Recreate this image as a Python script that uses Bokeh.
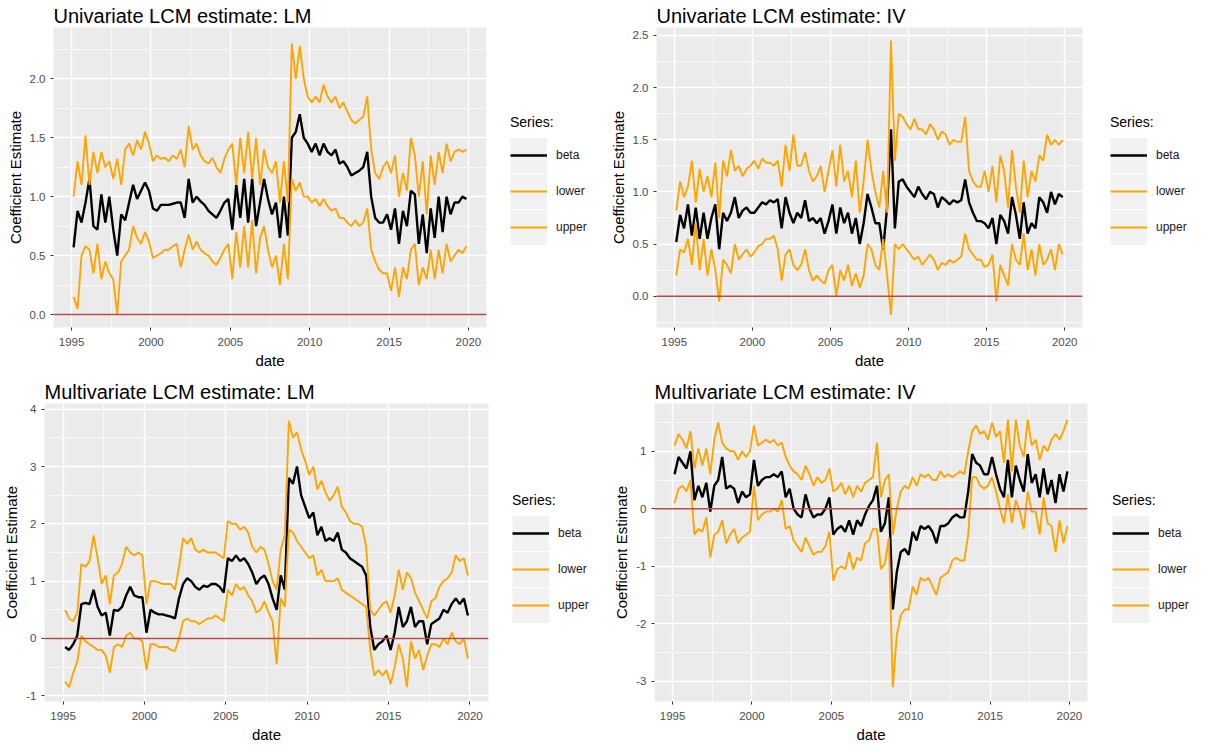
import numpy as np
from bokeh.plotting import figure
from bokeh.models import (Range1d, FixedTicker, PrintfTickFormatter, Span,
                          Legend, LegendItem)
from bokeh.layouts import row, column
from bokeh.embed import file_html
from bokeh.resources import INLINE

FONT = "Liberation Sans"
ORANGE = "#FFA500"

# quarterly sampling dates (decimal years), 1995Q1 .. 2019Q4
dates = [1995.125 + 0.25 * i for i in range(100)]

series_names = ["beta", "lower", "upper"]
x_ticks = [1995, 2000, 2005, 2010, 2015, 2020]

uni_lm_beta = [
    0.57, 0.88, 0.78, 0.95,  1.15, 0.75, 0.72, 1.02,  0.78, 1.00, 0.72, 0.50,
    0.85, 0.80, 0.95, 1.10,  0.98, 1.05, 1.12, 1.05,  0.90, 0.88, 0.93, 0.93,
    0.93, 0.94, 0.95, 0.95,  0.82, 1.15, 0.95, 1.00,  0.96, 0.93, 0.88, 0.85,
    0.82, 0.88, 0.95, 0.98,  0.72, 1.10, 0.82, 1.15,  0.78, 1.15, 0.75, 0.95,
    1.15, 0.98, 0.85, 0.95,  0.65, 1.00, 0.67, 1.50,  1.55, 1.70, 1.50, 1.45,
    1.38, 1.45, 1.35, 1.45,  1.38, 1.35, 1.40, 1.28,  1.30, 1.25, 1.18, 1.20,
    1.22, 1.25, 1.38, 1.00,  0.82, 0.78, 0.78, 0.85,  0.72, 0.90, 0.60, 0.88,
    0.75, 1.05, 1.02, 0.60,  0.85, 0.52, 0.90, 0.65,  1.00, 0.70, 1.00, 0.85,
    0.95, 0.95, 1.00, 0.98]
uni_lm_upper = [
    1.00, 1.30, 1.10, 1.52,  1.10, 1.38, 1.20, 1.38,  1.25, 1.30, 1.15, 1.32,
    1.10, 1.40, 1.45, 1.35,  1.48, 1.40, 1.55, 1.45,  1.30, 1.35, 1.32, 1.33,
    1.30, 1.35, 1.32, 1.40,  1.25, 1.60, 1.40, 1.45,  1.35, 1.30, 1.28, 1.33,
    1.25, 1.20, 1.32, 1.40,  1.45, 1.10, 1.50, 1.20,  1.55, 1.15, 1.50, 1.10,
    1.40, 1.25, 1.20, 1.30,  0.95, 1.30, 0.95, 2.30,  2.00, 2.28, 2.00, 1.85,
    1.80, 1.85, 1.80, 1.95,  1.85, 1.80, 1.85, 1.75,  1.80, 1.72, 1.65, 1.62,
    1.65, 1.68, 1.85, 1.40,  1.20, 1.15, 1.25, 1.30,  1.20, 1.35, 1.00, 1.20,
    1.05, 1.50, 1.35, 1.00,  1.30, 0.85, 1.35, 1.10,  1.38, 1.20, 1.45, 1.30,
    1.38, 1.40, 1.38, 1.40]
uni_lm_lower = [
    0.15, 0.05, 0.50, 0.58,  0.55, 0.35, 0.60, 0.30,  0.45, 0.35, 0.30, 0.00,
    0.45, 0.50, 0.55, 0.75,  0.65, 0.60, 0.70, 0.62,  0.48, 0.50, 0.52, 0.55,
    0.55, 0.58, 0.60, 0.40,  0.55, 0.68, 0.55, 0.62,  0.55, 0.52, 0.50, 0.45,
    0.42, 0.48, 0.55, 0.60,  0.30, 0.70, 0.40, 0.75,  0.40, 0.80, 0.35, 0.65,
    0.75, 0.55, 0.40, 0.50,  0.25, 0.60, 0.30, 1.15,  1.05, 1.12, 1.00, 1.00,
    0.95, 0.98, 0.92, 0.98,  0.92, 0.88, 0.90, 0.82,  0.82, 0.78, 0.75, 0.80,
    0.75, 0.78, 0.90, 0.55,  0.45, 0.38, 0.35, 0.35,  0.20, 0.40, 0.15, 0.40,
    0.30, 0.55, 0.60, 0.25,  0.40, 0.30, 0.55, 0.30,  0.55, 0.35, 0.60, 0.45,
    0.50, 0.55, 0.52, 0.58]

uni_iv_beta = [
    0.52, 0.78, 0.65, 0.88,  0.58, 0.85, 0.55, 0.80,  0.55, 0.75, 0.88, 0.45,
    0.80, 0.72, 0.80, 0.95,  0.75, 0.82, 0.85, 0.80,  0.80, 0.85, 0.90, 0.88,
    0.92, 0.90, 0.93, 0.65,  0.95, 0.80, 0.70, 0.80,  0.75, 0.92, 0.72, 0.75,
    0.70, 0.75, 0.60, 0.72,  0.88, 0.60, 0.85, 0.70,  0.80, 0.60, 0.75, 0.50,
    0.70, 0.98, 0.85, 0.70,  0.70, 0.45, 0.85, 1.60,  0.65, 1.10, 1.12, 1.05,
    1.00, 0.95, 1.05, 0.98,  0.93, 1.00, 0.98, 0.85,  0.95, 0.92, 0.88, 0.92,
    0.90, 0.92, 1.12, 0.90,  0.80, 0.72, 0.72, 0.70,  0.65, 0.75, 0.50, 0.78,
    0.72, 0.60, 0.95, 0.78,  0.55, 0.90, 0.60, 0.70,  0.65, 0.95, 0.90, 0.80,
    1.00, 0.88, 0.98, 0.95]
uni_iv_upper = [
    0.82, 1.10, 0.95, 1.05,  1.30, 0.90, 1.22, 1.00,  1.15, 0.95, 1.28, 0.75,
    1.30, 1.15, 1.40, 1.20,  1.25, 1.15, 1.22, 1.25,  1.30, 1.22, 1.32, 1.28,
    1.28, 1.25, 1.30, 1.05,  1.45, 1.20, 1.55, 1.25,  1.25, 1.38, 1.20, 1.10,
    1.15, 1.25, 1.00, 1.20,  1.40, 1.05, 1.45, 1.10,  1.20, 0.95, 1.30, 0.80,
    1.10, 1.50, 1.20, 1.00,  0.85, 1.20, 0.80, 2.45,  1.30, 1.75, 1.72, 1.65,
    1.60, 1.70, 1.60, 1.60,  1.55, 1.65, 1.60, 1.50,  1.58, 1.55, 1.45, 1.50,
    1.48, 1.48, 1.72, 1.20,  1.10, 1.05, 1.05, 1.20,  1.00, 1.25, 0.90, 1.35,
    1.20, 0.85, 1.40, 1.05,  0.80, 1.30, 0.95, 1.20,  1.10, 1.35, 1.30, 1.55,
    1.45, 1.50, 1.45, 1.50]
uni_iv_lower = [
    0.20, 0.45, 0.42, 0.55,  0.30, 0.70, 0.25, 0.55,  0.20, 0.45, 0.25, -0.05,
    0.35, 0.30, 0.22, 0.50,  0.35, 0.40, 0.45, 0.38,  0.42, 0.48, 0.50, 0.55,
    0.55, 0.58, 0.45, 0.15,  0.40, 0.45, 0.30, 0.25,  0.30, 0.45, 0.25, 0.15,
    0.20, 0.15, 0.12, 0.25,  0.30, 0.00, 0.25, 0.15,  0.30, 0.10, 0.22, 0.08,
    0.20, 0.50, 0.45, 0.30,  0.25, 0.55, 0.20, -0.18,  0.50, 0.45, 0.50, 0.45,
    0.40, 0.35, 0.38, 0.30,  0.35, 0.40, 0.35, 0.25,  0.32, 0.30, 0.35, 0.32,
    0.35, 0.38, 0.60, 0.45,  0.40, 0.35, 0.35, 0.28,  0.30, 0.40, -0.05, 0.30,
    0.20, 0.10, 0.50, 0.35,  0.30, 0.60, 0.25, 0.45,  0.20, 0.50, 0.30, 0.35,
    0.45, 0.25, 0.50, 0.40]

multi_lm_beta = [
    -0.15, -0.20, -0.10, 0.05,  0.60, 0.62, 0.60, 0.85,  0.55, 0.40, 0.45, 0.05,
    0.50, 0.48, 0.55, 0.75,  0.90, 0.75, 0.72, 0.72,  0.10, 0.50, 0.45, 0.42,
    0.42, 0.40, 0.38, 0.35,  0.70, 0.95, 1.05, 1.00,  0.90, 0.85, 0.92, 0.90,
    0.95, 0.95, 0.90, 0.80,  1.40, 1.35, 1.45, 1.35,  1.40, 1.30, 1.15, 0.95,
    1.05, 1.10, 0.95, 0.70,  0.50, 1.10, 0.85, 2.80,  2.70, 3.00, 2.50, 2.30,
    2.10, 2.20, 1.80, 1.95,  1.70, 1.75, 1.70, 1.85,  1.55, 1.50, 1.40, 1.35,
    1.30, 1.25, 1.10, 0.20,  -0.20, -0.10, -0.05, 0.05,  -0.20, 0.10, 0.55, 0.20,
    0.30, 0.55, 0.20, 0.30,  0.30, -0.10, 0.25, 0.30,  0.35, 0.50, 0.45, 0.60,
    0.70, 0.60, 0.70, 0.40]
multi_lm_upper = [
    0.50, 0.35, 0.30, 0.45,  1.30, 1.25, 1.35, 1.80,  1.40, 0.95, 1.10, 0.60,
    1.10, 1.15, 1.30, 1.60,  1.50, 1.45, 1.50, 1.45,  0.60, 1.00, 1.00, 0.98,
    0.95, 0.95, 0.95, 0.85,  1.25, 1.75, 1.65, 1.75,  1.55, 1.50, 1.55, 1.50,
    1.50, 1.50, 1.45, 1.40,  2.05, 2.00, 2.00, 1.90,  1.95, 1.85, 1.60, 1.50,
    1.60, 1.55, 1.30, 1.00,  0.85, 1.55, 1.80, 3.80,  3.50, 3.60, 3.30, 3.10,
    2.85, 3.00, 2.60, 2.75,  2.55, 2.40, 2.50, 2.65,  2.30, 2.20, 2.05, 2.00,
    2.00, 1.95, 1.60, 0.50,  0.40, 0.50, 0.60, 0.65,  0.45, 0.75, 1.20, 0.85,
    1.15, 1.05, 0.80, 0.65,  0.50, 0.35, 0.65, 0.70,  0.90, 1.00, 1.05, 1.15,
    1.45, 1.35, 1.40, 1.10]
multi_lm_lower = [
    -0.75, -0.85, -0.60, -0.40,  0.05, -0.05, -0.10, -0.15,  -0.20, -0.20, -0.30, -0.60,
    -0.15, -0.10, -0.15, 0.05,  0.10, 0.00, 0.00, -0.05,  -0.55, -0.10, -0.10, -0.15,
    -0.15, -0.15, -0.20, -0.22,  0.00, 0.30, 0.35, 0.30,  0.30, 0.25, 0.30, 0.35,
    0.35, 0.40, 0.35, 0.30,  0.85, 0.75, 0.95, 0.85,  0.90, 0.75, 0.65, 0.45,
    0.50, 0.65, 0.45, 0.30,  -0.45, 0.70, 0.55, 1.90,  1.85, 1.70, 1.60, 1.50,
    1.40, 1.45, 1.10, 1.20,  1.00, 1.00, 1.00, 1.05,  0.85, 0.80, 0.75, 0.70,
    0.65, 0.60, 0.55, -0.20,  -0.65, -0.55, -0.65, -0.55,  -0.80, -0.50, -0.10, -0.35,
    -0.85, -0.05, -0.35, -0.20,  -0.55, -0.30, -0.10, -0.10,  -0.15, 0.00, -0.10, 0.10,
    -0.05, -0.10, 0.00, -0.35]

multi_iv_beta = [
    0.60, 0.90, 0.80, 0.70,  1.00, 0.15, 0.40, 0.20,  0.45, -0.05, 0.40, 0.50,
    0.90, 0.35, 0.40, 0.35,  0.10, 0.30, 0.20, 0.25,  0.85, 0.40, 0.50, 0.55,
    0.55, 0.60, 0.55, 0.65,  0.20, 0.35, 0.00, -0.10,  -0.15, 0.25, 0.00, -0.15,
    -0.10, -0.10, 0.00, 0.20,  -0.45, -0.35, -0.30, -0.40,  -0.20, -0.45, -0.20, -0.30,
    -0.10, 0.05, 0.15, 0.40,  -0.40, -0.25, 0.20, -1.75,  -1.10, -0.75, -0.70, -0.80,
    -0.40, -0.55, -0.30, -0.35,  -0.30, -0.40, -0.60, -0.30,  -0.30, -0.25, -0.15, -0.10,
    -0.15, -0.15, 0.30, 0.95,  0.80, 0.75, 0.60, 0.60,  0.90, 0.60, 0.35, 0.20,
    0.85, 0.20, 0.75, 0.50,  0.30, 0.95, 0.45, 0.60,  0.20, 0.70, 0.25, 0.50,
    0.10, 0.60, 0.30, 0.65]
multi_iv_upper = [
    1.10, 1.30, 1.20, 1.05,  1.35, 0.70, 1.05, 0.75,  1.05, 0.60, 1.20, 1.50,
    1.15, 1.05, 1.00, 1.00,  0.85, 1.00, 0.90, 1.00,  1.45, 1.10, 1.15, 1.20,
    1.15, 1.20, 1.10, 1.15,  0.90, 0.75, 0.65, 0.60,  0.50, 0.75, 0.60, 0.40,
    0.55, 0.45, 0.50, 0.70,  0.30, 0.35, 0.45, 0.25,  0.40, 0.20, 0.40, 0.30,
    0.45, 0.50, 0.55, 1.15,  0.20, 0.50, 0.60, -0.45,  0.00, 0.30, 0.40, 0.35,
    0.55, 0.40, 0.60, 0.55,  0.60, 0.50, 0.50, 0.65,  0.55, 0.60, 0.55, 0.60,
    0.65, 0.60, 1.00, 1.35,  1.45, 1.30, 1.35, 1.20,  1.50, 1.25, 1.35, 0.80,
    1.55, 0.65, 1.55, 1.10,  0.90, 1.55, 1.10, 1.20,  0.85, 1.10, 1.00, 1.20,
    1.30, 1.20, 1.35, 1.55]
multi_iv_lower = [
    0.10, 0.35, 0.40, 0.30,  0.50, -0.45, -0.35, -0.40,  -0.15, -0.85, -0.45, -0.40,
    -0.20, -0.60, -0.45, -0.35,  -0.60, -0.50, -0.45, -0.40,  0.40, -0.20, -0.10, -0.05,
    -0.05, 0.00, -0.05, 0.15,  -0.35, -0.30, -0.55, -0.65,  -0.75, -0.50, -0.65, -0.80,
    -0.75, -0.75, -0.65, -0.40,  -1.25, -1.05, -1.00, -1.05,  -0.75, -1.05, -0.85, -0.90,
    -0.60, -0.55, -0.35, -0.35,  -1.05, -0.95, -0.50, -3.10,  -2.20, -1.85, -1.75, -1.75,
    -1.35, -1.50, -1.20, -1.25,  -1.20, -1.35, -1.50, -1.20,  -1.15, -1.10, -0.90, -0.85,
    -0.90, -0.90, -0.45, 0.55,  0.55, 0.40, 0.35, 0.40,  0.55, 0.30, 0.00, -0.25,
    0.25, -0.25, 0.15, -0.05,  -0.35, 0.30, -0.05, -0.05,  -0.45, 0.20, -0.25, -0.30,
    -0.75, -0.20, -0.60, -0.30]


def make_panel(title, beta, lower, upper, y_lo, y_hi, y_ticks, y_minor, y_fmt,
               f_width, f_height, b_left, b_top, b_bottom,
               leg_width, leg_x, leg_y):
    p = figure(frame_width=f_width, frame_height=f_height,
               output_backend="svg", toolbar_location=None,
               x_range=Range1d(1993.86, 2021.14), y_range=Range1d(y_lo, y_hi),
               min_border_left=b_left, min_border_right=5,
               min_border_top=b_top, min_border_bottom=b_bottom)
    p.title.text = title
    p.title.text_font = FONT
    p.title.text_font_size = "20px"
    p.title.text_font_style = "normal"
    p.title.text_color = "#000000"
    p.title.align = "left"
    p.title.standoff = 2

    p.background_fill_color = "#EBEBEB"
    p.border_fill_color = "white"
    p.outline_line_color = None

    p.xaxis.ticker = FixedTicker(ticks=x_ticks,
                                 minor_ticks=[1992.5, 1997.5, 2002.5, 2007.5,
                                              2012.5, 2017.5, 2022.5])
    p.xaxis.formatter = PrintfTickFormatter(format="%d")
    p.yaxis.ticker = FixedTicker(ticks=y_ticks, minor_ticks=y_minor)
    p.yaxis.formatter = PrintfTickFormatter(format=y_fmt)

    for ax in (p.xaxis, p.yaxis):
        ax.axis_line_color = None
        ax.major_tick_line_color = "#333333"
        ax.major_tick_out = 3
        ax.major_tick_in = 0
        ax.minor_tick_line_color = None
        ax.major_label_text_font = FONT
        ax.major_label_text_font_size = "11.5px"
        ax.major_label_text_color = "#4D4D4D"
        ax.axis_label_text_font = FONT
        ax.axis_label_text_font_style = "normal"
        ax.axis_label_text_color = "#000000"
    p.xaxis.major_label_standoff = 6
    p.yaxis.major_label_standoff = 4
    p.xaxis.axis_label = "date"
    p.xaxis.axis_label_text_font_size = "15px"
    p.xaxis.axis_label_standoff = 3
    p.yaxis.axis_label = "Coefficient Estimate"
    p.yaxis.axis_label_text_font_size = "15px"
    p.yaxis.axis_label_standoff = 3

    p.grid.grid_line_color = "white"
    p.grid.grid_line_width = 1.4
    p.grid.minor_grid_line_color = "white"
    p.grid.minor_grid_line_width = 0.7

    p.line(dates, beta, line_color="black", line_width=2.4)
    p.line(dates, lower, line_color=ORANGE, line_width=1.9)
    p.line(dates, upper, line_color=ORANGE, line_width=1.9)

    p.add_layout(Span(location=0, dimension="width", line_color="#B24A4A",
                      line_width=1.4))

    # ---- legend, drawn in a narrow companion figure to the right ----
    lg = figure(width=leg_width, height=f_height + b_top + b_bottom,
                output_backend="svg", toolbar_location=None,
                x_axis_location=None, y_axis_location=None, min_border=0,
                x_range=Range1d(0, 1), y_range=Range1d(0, 1))
    lg.outline_line_color = None
    lg.background_fill_color = "white"
    lg.border_fill_color = "white"
    lg.grid.visible = False
    nan = np.array([np.nan])
    key_bg = lg.line(nan, nan, line_color="#F2F2F2", line_width=35)
    k_beta = lg.line(nan, nan, line_color="black", line_width=2.4)
    k_low = lg.line(nan, nan, line_color=ORANGE, line_width=1.9)
    k_up = lg.line(nan, nan, line_color=ORANGE, line_width=1.9)
    legend = Legend(
        items=[LegendItem(label=series_names[0], renderers=[key_bg, k_beta]),
               LegendItem(label=series_names[1], renderers=[key_bg, k_low]),
               LegendItem(label=series_names[2], renderers=[key_bg, k_up])],
        title="Series:", location=(leg_x, leg_y),
        glyph_width=37, glyph_height=36, spacing=0, padding=0,
        margin=0, border_line_color=None, background_fill_alpha=0,
        label_text_font=FONT, label_text_font_size="12px",
        label_text_color="#1A1A1A", label_standoff=9,
        title_text_font=FONT, title_text_font_size="14px",
        title_text_font_style="normal", title_text_color="#000000",
        title_standoff=7)
    lg.add_layout(legend, "center")
    return row(p, lg)


p1 = make_panel("Univariate LCM estimate: LM", uni_lm_beta, uni_lm_lower,
                uni_lm_upper, -0.11, 2.435, [0.0, 0.5, 1.0, 1.5, 2.0],
                [-0.25, 0.25, 0.75, 1.25, 1.75, 2.25], "%.1f",
                433, 300, 53, 27, 39, 109, 19, 77)
p2 = make_panel("Univariate LCM estimate: IV", uni_iv_beta, uni_iv_lower,
                uni_iv_upper, -0.3, 2.576, [0.0, 0.5, 1.0, 1.5, 2.0, 2.5],
                [-0.25, 0.25, 0.75, 1.25, 1.75, 2.25], "%.1f",
                426, 300, 56, 27, 39, 103, 23, 77)
p3 = make_panel("Multivariate LCM estimate: LM", multi_lm_beta, multi_lm_lower,
                multi_lm_upper, -1.1, 4.1, [-1, 0, 1, 2, 3, 4],
                [-0.5, 0.5, 1.5, 2.5, 3.5], "%d",
                444, 298, 42, 32, 38, 109, 19, 72)
p4 = make_panel("Multivariate LCM estimate: IV", multi_iv_beta, multi_iv_lower,
                multi_iv_upper, -3.35, 1.83, [-3, -2, -1, 0, 1],
                [-2.5, -1.5, -0.5, 0.5, 1.5], "%d",
                433, 298, 52, 32, 38, 100, 20, 72)

layout = column(row(p1, p2), row(p3, p4))

with open("out.html", "w") as f:
    f.write(file_html(layout, INLINE))
